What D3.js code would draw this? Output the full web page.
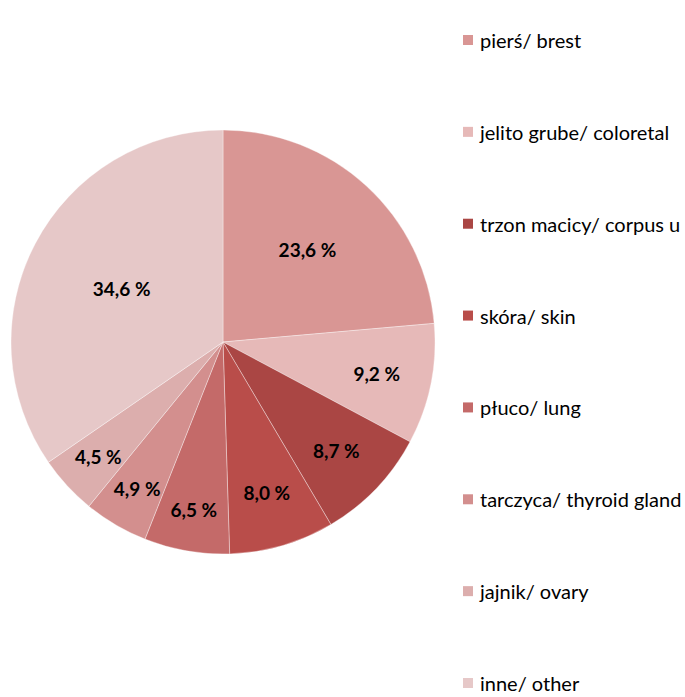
<!DOCTYPE html>
<html><head><meta charset="utf-8">
<script src="https://cdn.jsdelivr.net/npm/d3@7"></script>
<style>body{margin:0;background:#fff;overflow:hidden}</style>
</head><body>
<svg id="c" width="685" height="697"></svg>
<script>
const categories = ["pierś/ brest","jelito grube/ coloretal","trzon macicy/ corpus u","skóra/ skin","płuco/ lung","tarczyca/ thyroid gland","jajnik/ ovary","inne/ other"];
const values = [23.6, 9.2, 8.7, 8.0, 6.5, 4.9, 4.5, 34.6];
const valueLabels = ["23,6 %","9,2 %","8,7 %","8,0 %","6,5 %","4,9 %","4,5 %","34,6 %"];
const colors = ["#D99694","#E6B9B8","#AA4644","#B94D4A","#C46A69","#D38F8E","#DCAEAD","#E6C8C8"];

const svg = d3.select("#c");
const cx = 223, cy = 342, R = 212;
const font = "Lato, 'Open Sans', sans-serif";
const pie = d3.pie().sort(null).value(d => d)(values);
const arc = d3.arc().innerRadius(0).outerRadius(R);
const g = svg.append("g").attr("transform", `translate(${cx},${cy})`);
g.selectAll("path").data(pie).join("path")
  .attr("d", arc).attr("fill", (d,i) => colors[i])
  .attr("stroke", "#fff").attr("stroke-width", 0.6).attr("stroke-opacity", 0.6);
g.selectAll("text").data(pie).join("text")
  .each(function(d, i){
    const frac = (d.endAngle - d.startAngle) / (2*Math.PI);
    const r = R * (frac > 0.3 ? 0.54 : frac > 0.2 ? 0.59 : (frac > 0.07 ? 0.74 : 0.8));
    const a = (d.startAngle + d.endAngle) / 2;
    d3.select(this).attr("x", r*Math.sin(a)).attr("y", -r*Math.cos(a));
  })
  .attr("text-anchor","middle").attr("dominant-baseline","central")
  .style("font-family", font).style("font-weight","bold").style("font-size","19px")
  .attr("fill","#000").text((d,i) => valueLabels[i]);

const ly = d3.scalePoint().domain(categories).range([40, 683]);
const lg = svg.append("g");
const items = lg.selectAll("g").data(categories).join("g")
  .attr("transform", d => `translate(463,${ly(d)})`);
items.append("rect").attr("x",0).attr("y",-5).attr("width",10).attr("height",10)
  .attr("fill", (d,i) => colors[i]);
items.append("text").attr("x",17).attr("y",0).attr("dominant-baseline","central")
  .style("font-family", font).style("font-size","20px").attr("fill","#000").text(d => d);
</script>
</body></html>
